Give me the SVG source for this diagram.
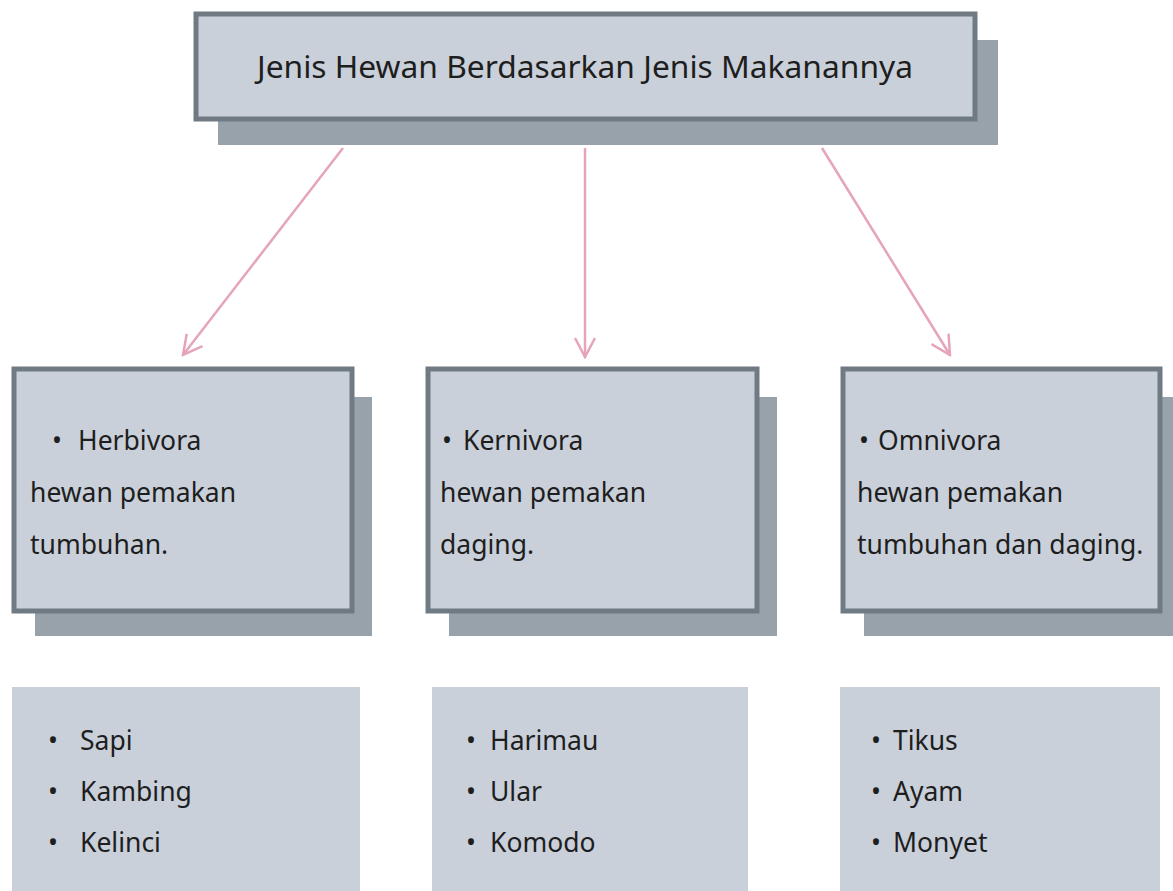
<svg xmlns="http://www.w3.org/2000/svg" width="1173" height="891" viewBox="0 0 1173 891">
<style>
.shadow{fill:#98a2ab}
.box{fill:#c9d0da;stroke:#6f7a83;stroke-width:5}
.plain{fill:#c9d0da}
.t{font-family:"Noto Sans","Liberation Sans",sans-serif;font-size:26.5px;fill:#1e1e1e}
.title{font-family:"Noto Sans","Liberation Sans",sans-serif;font-size:31px;fill:#1e1e1e}
.conn{stroke:#e6a4bb;stroke-width:2.5;fill:none;marker-end:url(#arr)}
</style>
<defs>
<marker id="arr" viewBox="0 0 24 24" refX="22" refY="12" markerWidth="24" markerHeight="24" markerUnits="userSpaceOnUse" orient="auto">
<path d="M3,2 L22,12 L3,22" fill="none" stroke="#e6a4bb" stroke-width="2.5"/>
</marker>
</defs>
<rect width="1173" height="891" fill="#ffffff"/>
<g id="connectors">
<line class="conn" x1="343" y1="148" x2="183" y2="355"/>
<line class="conn" x1="585" y1="148" x2="585" y2="357"/>
<line class="conn" x1="822" y1="148" x2="950" y2="355"/>
</g>
<g id="title">
<rect class="shadow" x="218" y="40" width="780" height="105"/>
<rect class="box" x="196" y="14" width="779" height="105"/>
<text class="title" x="585" y="78" text-anchor="middle" textLength="656" lengthAdjust="spacingAndGlyphs">Jenis Hewan Berdasarkan Jenis Makanannya</text>
</g>
<g id="herbivora">
<rect class="shadow" x="35" y="397" width="337" height="239"/>
<rect class="box" x="14" y="369" width="338" height="242"/>
<text class="t" x="52" y="450">•</text>
<text class="t" x="78" y="450">Herbivora</text>
<text class="t" x="30" y="502">hewan pemakan</text>
<text class="t" x="30" y="554">tumbuhan.</text>
</g>
<g id="kernivora">
<rect class="shadow" x="449" y="397" width="328" height="239"/>
<rect class="box" x="428" y="369" width="329" height="242"/>
<text class="t" x="442" y="450">•</text>
<text class="t" x="463" y="450">Kernivora</text>
<text class="t" x="440" y="502">hewan pemakan</text>
<text class="t" x="440" y="554">daging.</text>
</g>
<g id="omnivora">
<rect class="shadow" x="864" y="397" width="309" height="239"/>
<rect class="box" x="843" y="369" width="317" height="242"/>
<text class="t" x="859" y="450">•</text>
<text class="t" x="878" y="450">Omnivora</text>
<text class="t" x="857" y="502">hewan pemakan</text>
<text class="t" x="857" y="554">tumbuhan dan daging.</text>
</g>
<g id="list-herbivora">
<rect class="plain" x="12" y="687" width="348" height="204"/>
<text class="t" x="48" y="750">•</text><text class="t" x="80" y="750">Sapi</text>
<text class="t" x="48" y="801">•</text><text class="t" x="80" y="801">Kambing</text>
<text class="t" x="48" y="852">•</text><text class="t" x="80" y="852">Kelinci</text>
</g>
<g id="list-kernivora">
<rect class="plain" x="432" y="687" width="316" height="204"/>
<text class="t" x="466" y="750">•</text><text class="t" x="490" y="750">Harimau</text>
<text class="t" x="466" y="801">•</text><text class="t" x="490" y="801">Ular</text>
<text class="t" x="466" y="852">•</text><text class="t" x="490" y="852">Komodo</text>
</g>
<g id="list-omnivora">
<rect class="plain" x="840" y="687" width="320" height="204"/>
<text class="t" x="871" y="750">•</text><text class="t" x="893" y="750">Tikus</text>
<text class="t" x="871" y="801">•</text><text class="t" x="893" y="801">Ayam</text>
<text class="t" x="871" y="852">•</text><text class="t" x="893" y="852">Monyet</text>
</g>
</svg>
